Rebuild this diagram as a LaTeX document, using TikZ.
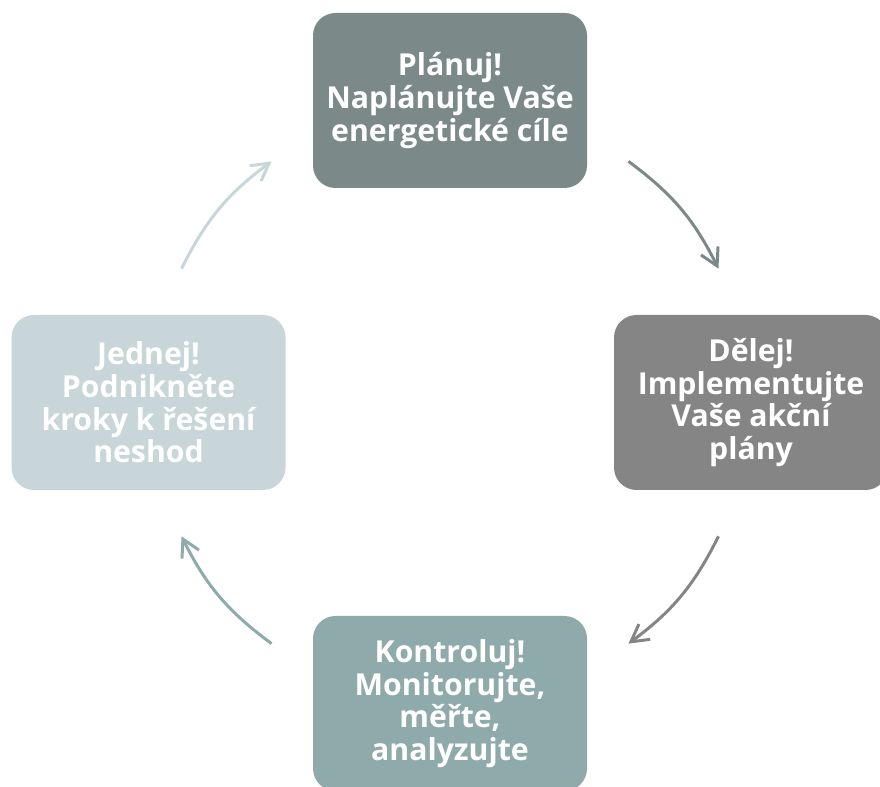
\documentclass[tikz,border=0pt]{standalone}
\usepackage{fontspec}
\setmainfont{Open Sans}
\usetikzlibrary{arrows.meta}

\definecolor{planC}{HTML}{7B8A88}
\definecolor{delejC}{HTML}{858585}
\definecolor{kontrC}{HTML}{8FAAAA}
\definecolor{jednC}{HTML}{C8D5D9}

\tikzset{
    krok/.style={rounded corners=0.45cm, minimum width=5.48cm, minimum height=3.5cm,
        align=center, text=white, inner sep=0pt,
        font=\fontsize{17.2}{18.6}\selectfont\bfseries},
    sipka/.style={line width=1.7pt, -{Straight Barb[length=3.4mm,width=3.8mm]}}
}

\begin{document}
\begin{tikzpicture}
    \useasboundingbox (0,0) rectangle (17.6,-15.74);
    \clip (0,0) rectangle (17.6,-15.74);

    % Kroky cyklu
    \node[krok, fill=planC]  (plan)  at (9,-2.01)   {Plánuj!\\Naplánujte Vaše\\energetické cíle};
    \node[krok, fill=delejC] (delej) at (15.02,-8.05) {Dělej!\\Implementujte\\Vaše akční\\plány};
    \node[krok, fill=kontrC] (kontr) at (9,-14.07)  {Kontroluj!\\Monitorujte,\\měřte,\\analyzujte};
    \node[krok, fill=jednC]  (jedn)  at (2.97,-8.05) {Jednej!\\Podnikněte\\kroky k řešení\\neshod};

    % Konce sipek na kruznici
    \begin{scope}[shift={(9,-8.05)}]
        \coordinate (a1) at (53.5:6);   \coordinate (a2) at (26.5:6);
        \coordinate (b1) at (-26.5:6);  \coordinate (b2) at (-53.5:6);
        \coordinate (c1) at (233.5:6);  \coordinate (c2) at (206.5:6);
        \coordinate (d1) at (153.5:6);  \coordinate (d2) at (126.5:6);
    \end{scope}

    % Sipky
    \draw[sipka, planC]  (a1) to[bend left=13.5] (a2);
    \draw[sipka, delejC] (b1) to[bend left=13.5] (b2);
    \draw[sipka, kontrC] (c1) to[bend left=13.5] (c2);
    \draw[sipka, jednC]  (d1) to[bend left=13.5] (d2);
\end{tikzpicture}
\end{document}
